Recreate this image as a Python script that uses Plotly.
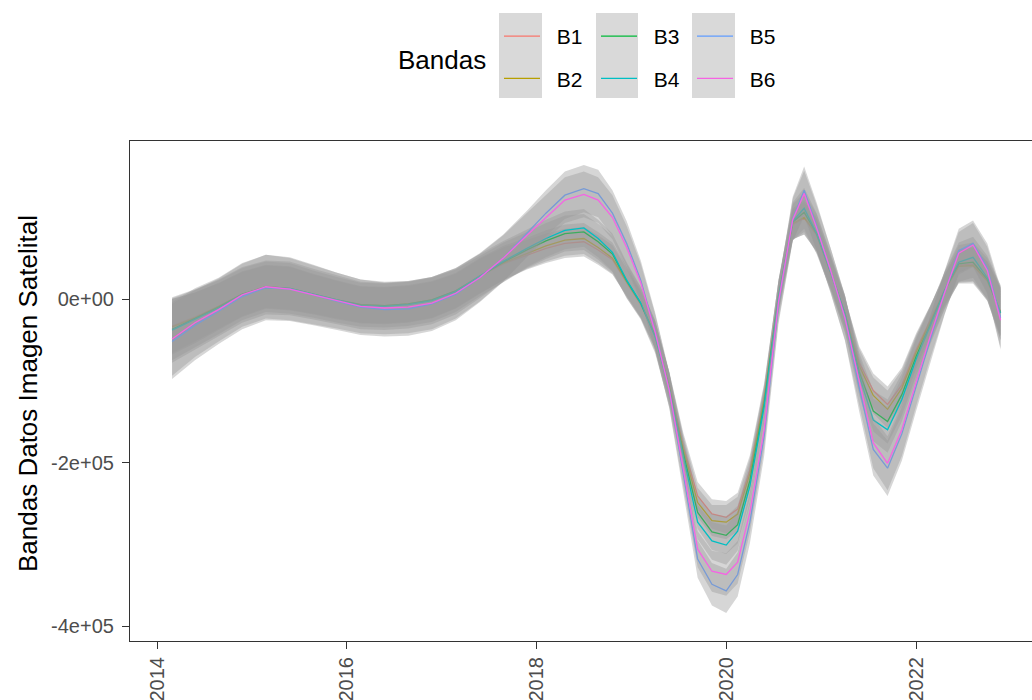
import plotly.graph_objects as go

# ---------------- data (values in thousands) ----------------
dates = ["2014-02-28", "2014-05-27", "2014-08-26", "2014-11-25", "2015-02-24", "2015-05-27",
         "2015-08-26", "2015-11-25", "2016-02-24", "2016-05-26", "2016-08-25", "2016-11-24",
         "2017-02-24", "2017-05-27", "2017-08-26", "2017-11-25", "2018-02-06", "2018-04-20",
         "2018-07-02", "2018-08-26", "2018-10-20", "2018-12-14", "2019-02-06", "2019-04-02",
         "2019-05-27", "2019-07-20", "2019-09-13", "2019-11-07", "2020-01-01", "2020-02-14",
         "2020-04-01", "2020-05-26", "2020-07-20", "2020-09-13", "2020-10-27", "2020-12-14",
         "2021-02-06", "2021-04-02", "2021-05-27", "2021-07-20", "2021-09-13", "2021-11-07",
         "2022-01-01", "2022-02-24", "2022-04-20", "2022-06-14", "2022-08-08", "2022-10-02",
         "2022-11-22"]

b1 = [-33, -22, -9, 6, 15, 13, 6, -1, -7, -8, -6, -1, 10, 28, 43, 54, 62, 68, 70, 60, 48, 20, -7,
      -44, -105, -180, -241, -263, -267, -257, -209, -120, 5, 91, 99, 78, 32, -17, -78, -112, -129,
      -105, -62, -26, 11, 41, 43, 23, -16]
b2 = [-34, -23, -9, 6, 15, 13, 6, -1, -7, -8, -6, -1, 10, 28, 44, 56, 65, 72, 74, 63, 50, 21, -6,
      -44, -107, -184, -249, -271, -273, -263, -214, -123, 4, 92, 100, 79, 32, -17, -82, -118, -135,
      -109, -65, -28, 10, 40, 41, 22, -16]
b3 = [-37, -24, -10, 6, 15, 13, 6, -1, -7, -8, -6, -1, 10, 28, 45, 60, 71, 80, 82, 70, 55, 22, -5,
      -45, -109, -189, -261, -285, -289, -276, -222, -128, 3, 94, 106, 80, 33, -18, -89, -137, -150,
      -117, -70, -31, 10, 43, 45, 24, -17]
b4 = [-38, -25, -11, 5, 14, 13, 6, -1, -8, -9, -7, -2, 9, 28, 46, 62, 74, 84, 87, 74, 57, 23, -5,
      -46, -111, -193, -273, -296, -301, -284, -229, -132, 2, 95, 111, 80, 33, -18, -94, -148, -160,
      -123, -74, -33, 10, 45, 51, 26, -17]
b5 = [-52, -32, -15, 3, 14, 12, 5, -3, -10, -13, -12, -6, 6, 26, 50, 80, 105, 127, 135, 129, 105,
      68, 23, -39, -112, -215, -318, -349, -357, -337, -273, -168, -7, 98, 133, 89, 35, -23, -109,
      -184, -207, -165, -107, -50, 7, 59, 68, 38, -23]
b6 = [-49, -29, -13, 5, 15, 12, 5, -2, -9, -11, -10, -5, 7, 26, 50, 78, 100, 121, 128, 121, 100,
      63, 20, -40, -112, -209, -306, -333, -337, -322, -261, -160, -4, 97, 129, 87, 35, -23, -102,
      -176, -201, -160, -102, -46, 7, 56, 66, 35, -26]

# confidence half-widths (thousands)
hw1 = [33, 30, 28, 27, 26, 26, 24, 23, 22, 22, 22, 22, 21, 21, 20, 18, 18, 18, 18, 18, 18, 17, 16,
       16, 16, 16, 17, 18, 20, 20, 18, 17, 17, 18, 20, 20, 18, 18, 20, 21, 22, 21, 20, 18, 18, 20,
       21, 23, 29]
hw2 = [34, 31, 29, 28, 27, 27, 25, 24, 23, 23, 23, 23, 22, 22, 21, 19, 19, 19, 19, 19, 19, 18, 17,
       17, 17, 17, 18, 19, 21, 21, 19, 18, 18, 19, 21, 21, 19, 19, 21, 22, 23, 22, 21, 19, 19, 21,
       22, 24, 30]
hw3 = [38, 35, 33, 32, 31, 31, 29, 28, 27, 27, 27, 27, 26, 25, 24, 22, 22, 22, 22, 22, 22, 21, 19,
       19, 19, 19, 20, 22, 23, 23, 22, 20, 20, 22, 24, 24, 22, 22, 23, 25, 27, 26, 24, 22, 22, 23,
       24, 26, 33]
hw4 = [40, 37, 35, 34, 33, 33, 31, 30, 29, 29, 29, 29, 28, 27, 25, 23, 23, 23, 23, 23, 23, 22, 20,
       20, 20, 20, 21, 23, 24, 24, 23, 21, 21, 23, 25, 25, 23, 23, 24, 26, 28, 27, 25, 23, 23, 24,
       25, 27, 34]
hw5 = [46, 43, 40, 40, 40, 39, 37, 35, 34, 33, 33, 33, 32, 30, 29, 28, 28, 29, 29, 29, 28, 27, 24,
       23, 22, 22, 23, 26, 27, 27, 26, 24, 24, 27, 29, 29, 28, 28, 29, 32, 34, 33, 30, 28, 27, 27,
       28, 30, 37]
hw6 = [45, 42, 39, 39, 39, 38, 36, 34, 33, 32, 32, 32, 31, 29, 28, 27, 27, 28, 28, 28, 27, 26, 23,
       22, 21, 21, 22, 25, 26, 26, 25, 23, 23, 26, 28, 28, 27, 27, 28, 31, 33, 32, 29, 27, 26, 26,
       27, 29, 36]

names = ["B1", "B2", "B3", "B4", "B5", "B6"]
colors = ["#F8766D", "#B79F00", "#00BA38", "#00BFC4", "#619CFF", "#F564E3"]
series = [b1, b2, b3, b4, b5, b6]
halfw = [hw1, hw2, hw3, hw4, hw5, hw6]
legend_ids = ["legend", "legend", "legend2", "legend2", "legend3", "legend3"]

ytickvals = [-400000, -200000, 0]
yticktext = ["-4e+05", "-2e+05", "0e+00"]

FONT = "Liberation Sans, Arial, sans-serif"
NBSP = "\u00a0\u00a0"

fig = go.Figure()
for name, col, s, hw, lg in zip(names, colors, series, halfw, legend_ids):
    yv = [v * 1000 for v in s]
    up = [(v + h) * 1000 for v, h in zip(s, hw)]
    lo = [(v - h) * 1000 for v, h in zip(s, hw)]
    fig.add_trace(go.Scatter(
        x=dates + dates[::-1], y=up + lo[::-1], fill="toself",
        fillcolor="rgba(153,153,153,0.4)", line=dict(width=0),
        mode="lines", hoverinfo="skip", showlegend=False))
    fig.add_trace(go.Scatter(
        x=dates, y=yv, mode="lines", name=NBSP + name, line=dict(color=col, width=1.3),
        legend=lg, legendgroup=name))

W, H = 1032, 700
L, R, T, B = 130, 0, 141, 59
pw, ph = W - L - R, H - T - B


def px2paper_x(px):
    return (px - L) / pw


def px2paper_y(py):
    return (H - B - py) / ph


# grey legend key backgrounds
for x0, x1 in [(499, 542), (596, 638), (692, 735)]:
    fig.add_shape(type="rect", xref="paper", yref="paper",
                  x0=px2paper_x(x0), x1=px2paper_x(x1),
                  y0=px2paper_y(98), y1=px2paper_y(13),
                  fillcolor="#D9D9D9", line=dict(width=0), layer="below")

leg_common = dict(xref="container", yref="container", xanchor="left", yanchor="top",
                  bgcolor="rgba(0,0,0,0)", font=dict(family=FONT, size=21, color="black"),
                  itemwidth=36, tracegroupgap=12, orientation="v")

fig.update_layout(
    width=W, height=H,
    margin=dict(l=L, r=R, t=T, b=B, autoexpand=False),
    paper_bgcolor="white", plot_bgcolor="white",
    font=dict(family=FONT),
    legend=dict(x=499 / W, y=1 - 16 / H, **leg_common),
    legend2=dict(x=596 / W, y=1 - 16 / H, **leg_common),
    legend3=dict(x=692 / W, y=1 - 16 / H, **leg_common),
    annotations=[
        dict(text="Bandas", xref="paper", yref="paper",
             x=px2paper_x(441.5), y=px2paper_y(60), showarrow=False,
             xanchor="center", yanchor="middle",
             font=dict(family=FONT, size=26, color="black")),
        dict(text="Bandas Datos Imagen Satelital", xref="paper", yref="paper",
             x=px2paper_x(28), y=px2paper_y(394), showarrow=False, textangle=-90,
             xanchor="center", yanchor="middle",
             font=dict(family=FONT, size=26, color="black")),
    ],
    xaxis=dict(type="date", range=["2013-09-19", "2023-03-23"],
               tick0="2014-01-01", dtick="M24", tickformat="%Y", tickangle=-90,
               showgrid=False, zeroline=False, showline=True, linecolor="#333333",
               linewidth=1.2, mirror=True, ticks="outside", ticklen=7, tickwidth=1.1,
               tickcolor="#333333", automargin=False,
               tickfont=dict(family=FONT, size=20, color="#4D4D4D")),
    yaxis=dict(range=[-418350, 193270], tickvals=ytickvals, ticktext=yticktext,
               showgrid=False, zeroline=False, showline=True, linecolor="#333333",
               linewidth=1.2, ticks="outside", ticklen=7, tickwidth=1.1,
               tickcolor="#333333", ticklabelstandoff=4,
               tickfont=dict(family=FONT, size=20, color="#4D4D4D"),
               automargin=False),
)

fig.write_html("out.html", config={"displayModeBar": False},
               post_script="document.body.style.margin='0px';")
